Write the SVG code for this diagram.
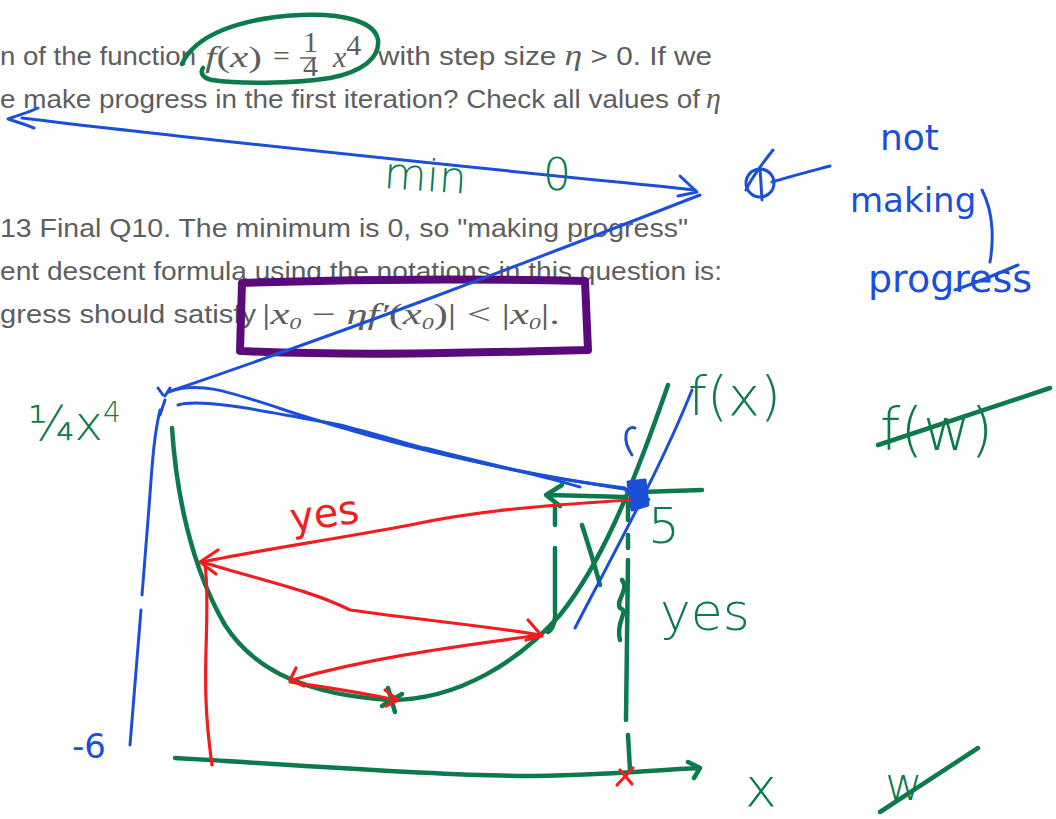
<svg xmlns="http://www.w3.org/2000/svg" width="1056" height="819" viewBox="0 0 1056 819">
<style>
.pt{font-family:"Liberation Sans",Arial,sans-serif;font-size:25px;fill:#5e5e5e}
.m{font-family:"Liberation Serif","Times New Roman",serif;font-style:italic;font-size:30px;fill:#5e5e5e}
.mn{font-family:"Liberation Serif","Times New Roman",serif;font-style:normal;font-size:30px;fill:#5e5e5e}
.g{fill:none;stroke:#0c7a4c;stroke-width:4.5;stroke-linecap:round;stroke-linejoin:round}
.b{fill:none;stroke:#1c4fd8;stroke-width:3;stroke-linecap:round;stroke-linejoin:round}
.r{fill:none;stroke:#f01e1e;stroke-width:3.2;stroke-linecap:round;stroke-linejoin:round}
.gt{font-family:"DejaVu Sans",sans-serif;fill:#0c7a4c;font-weight:300}
.bt{font-family:"DejaVu Sans",sans-serif;fill:#1c4fd8}
.rt{font-family:"DejaVu Sans",sans-serif;fill:#f01e1e}
</style>
<rect width="1056" height="819" fill="#ffffff"/>
<g id="printed-text">
<text class="pt" x="0" y="65" textLength="196" lengthAdjust="spacingAndGlyphs">n of the function</text>
<text class="m" x="205" y="67" textLength="57" lengthAdjust="spacingAndGlyphs">f<tspan class="mn">(</tspan>x<tspan class="mn">)</tspan></text>
<text class="mn" x="273" y="66">=</text>
<text class="mn" x="303" y="52" font-size="18">1</text>
<line x1="300" y1="58" x2="316" y2="58" stroke="#5e5e5e" stroke-width="1.5"/>
<text class="mn" x="303" y="76" font-size="18">4</text>
<text class="m" x="333" y="67">x<tspan class="mn" font-size="19" dy="-12">4</tspan></text>
<text class="pt" x="378" y="65" textLength="334" lengthAdjust="spacingAndGlyphs">with step size <tspan class="m" font-size="27">η</tspan> &gt; 0. If we</text>
<text class="pt" x="0" y="108" textLength="700" lengthAdjust="spacingAndGlyphs">e make progress in the first iteration? Check all values of</text>
<text class="m" x="706" y="108" font-size="27">η</text>
<text class="pt" x="0" y="237" textLength="688" lengthAdjust="spacingAndGlyphs">13 Final Q10. The minimum is 0, so "making progress"</text>
<text class="pt" x="0" y="280" textLength="722" lengthAdjust="spacingAndGlyphs">ent descent formula using the notations in this question is:</text>
<text class="pt" x="0" y="323" textLength="256" lengthAdjust="spacingAndGlyphs">gress should satisfy</text>
<text class="m" x="262" y="324" font-size="27" textLength="298" lengthAdjust="spacingAndGlyphs"><tspan class="mn" font-size="27">|</tspan>x<tspan font-size="17" dy="5">0</tspan><tspan class="mn" font-size="27" dy="-5"> − </tspan>ηf′<tspan class="mn" font-size="27">(</tspan>x<tspan font-size="17" dy="5">0</tspan><tspan class="mn" font-size="27" dy="-5">)| &lt; |</tspan>x<tspan font-size="17" dy="5">0</tspan><tspan class="mn" font-size="27" dy="-5">|.</tspan></text>
</g>
<g id="annotations-top">
<path class="g" d="M182,64 C195,35 240,18 300,15 C345,13 375,22 378,40 C380,58 362,72 330,78 C290,84 240,84 212,80 C202,78 200,72 203,68"/>
<path class="b" d="M22,118 C200,140 450,165 695,190"/>
<path class="b" d="M38,108 C30,112 15,116 8,119 C14,121 24,124 34,128"/>
<path class="b" d="M680,176 L697,192 L678,196"/>
<text class="gt" x="383" y="188" font-size="44" transform="rotate(4 383 188)">min</text>
<text class="gt" x="543" y="190" font-size="44">0</text>
<circle class="b" cx="760" cy="183" r="14"/>
<path class="b" d="M746,190 C752,176 763,163 773,150 M760,168 L762,200 M772,182 C795,175 815,170 830,166"/>
<text class="bt" x="880" y="150" font-size="36">not</text>
<text class="bt" x="850" y="212" font-size="34">making</text>
<path class="b" d="M982,190 C995,215 993,245 990,262"/>
<text class="bt" x="868" y="292" font-size="38">progress</text>
<path class="b" d="M955,290 C975,283 995,275 1018,265"/>
<path d="M242,283 C330,280 450,278 585,281 L588,350 C470,353 350,356 240,351 Z" fill="none" stroke="#5b0a7c" stroke-width="8" stroke-linejoin="round"/>
<path class="b" d="M700,195 C520,265 350,330 168,392"/>
</g>
<g id="graph">
<path class="g" d="M172,428 C176,490 190,565 225,625 C255,672 310,695 390,700 C460,700 520,660 560,615 C600,565 630,495 668,385"/>
<path class="g" d="M175,758 C300,765 420,775 520,776 C600,776 650,770 700,768 M688,762 L700,768 L694,778"/>
<text class="gt" x="745" y="806" font-size="54">x</text>
<text class="gt" x="885" y="800" font-size="46">w</text>
<path class="g" d="M880,812 L978,748"/>
<text class="gt" x="28" y="440" font-size="48">¼x<tspan font-size="28" dy="-18">4</tspan></text>
<text class="gt" x="688" y="415" font-size="54">f(x)</text>
<text class="gt" x="880" y="450" font-size="58">f(w)</text>
<path class="g" d="M878,445 L1050,388"/>
<path class="g" d="M640,492 L702,490"/>
<text class="gt" x="648" y="543" font-size="50">5</text>
<path class="g" d="M628,500 L628,520 M628,535 L628,548 M628,560 L626,720 M628,735 L630,770"/>
<path class="g" d="M622,580 C630,590 615,600 620,608 C630,612 615,620 620,640"/>
<text class="gt" x="660" y="630" font-size="52">yes</text>
<path class="g" d="M625,497 L550,495 M562,485 L546,495 L560,506"/>
<path class="g" d="M555,505 L555,525 M555,548 L555,612 C556,622 552,630 548,632"/>
<path class="g" d="M582,525 C590,550 596,570 600,585"/>
<path class="g" d="M388,688 L395,712 M382,706 L402,694"/>
<path class="b" d="M160,410 C153,440 152,470 148,520 C145,560 143,580 142,595 M141,610 C137,660 133,710 130,745"/>
<text class="bt" x="72" y="758" font-size="34">-6</text>
<path class="b" d="M168,392 C200,380 230,392 300,415 C380,440 470,465 630,490"/>
<path class="b" d="M178,405 C200,398 260,410 340,425 C420,445 480,470 625,488"/>
<path class="b" d="M425,448 C480,462 540,475 580,487"/>
<path class="b" d="M163,395 L158,388 M165,396 L170,388 M160,415 L165,400"/>
<path class="b" d="M692,390 C660,470 610,560 575,628"/>
<path class="b" d="M632,455 C622,440 625,425 635,428"/>
<path d="M628,482 L645,480 L648,505 L632,510 Z M625,490 L650,500" fill="#1c4fd8" stroke="#1c4fd8" stroke-width="3" stroke-linejoin="round"/>
</g>
<g id="red-steps">
<path class="r" d="M630,500 C550,505 480,510 410,525 C330,540 260,550 202,562"/>
<path class="r" d="M218,550 L200,562 L216,574"/>
<path class="r" d="M202,562 C260,580 310,590 350,610 C420,620 480,625 540,635"/>
<path class="r" d="M528,620 L542,636 L526,640"/>
<path class="r" d="M540,635 C470,645 380,655 292,680"/>
<path class="r" d="M296,668 L290,680 L304,686"/>
<path class="r" d="M290,682 C330,688 360,692 395,700"/>
<path class="r" d="M385,690 L398,700 L386,706"/>
<path class="r" d="M205,565 C210,600 204,650 206,700 C207,730 210,750 212,765"/>
<text class="rt" x="292" y="532" font-size="40" transform="rotate(-8 292 532)">yes</text>
<path class="r" d="M620,770 L632,784 M617,785 L633,768"/>
</g>
</svg>
